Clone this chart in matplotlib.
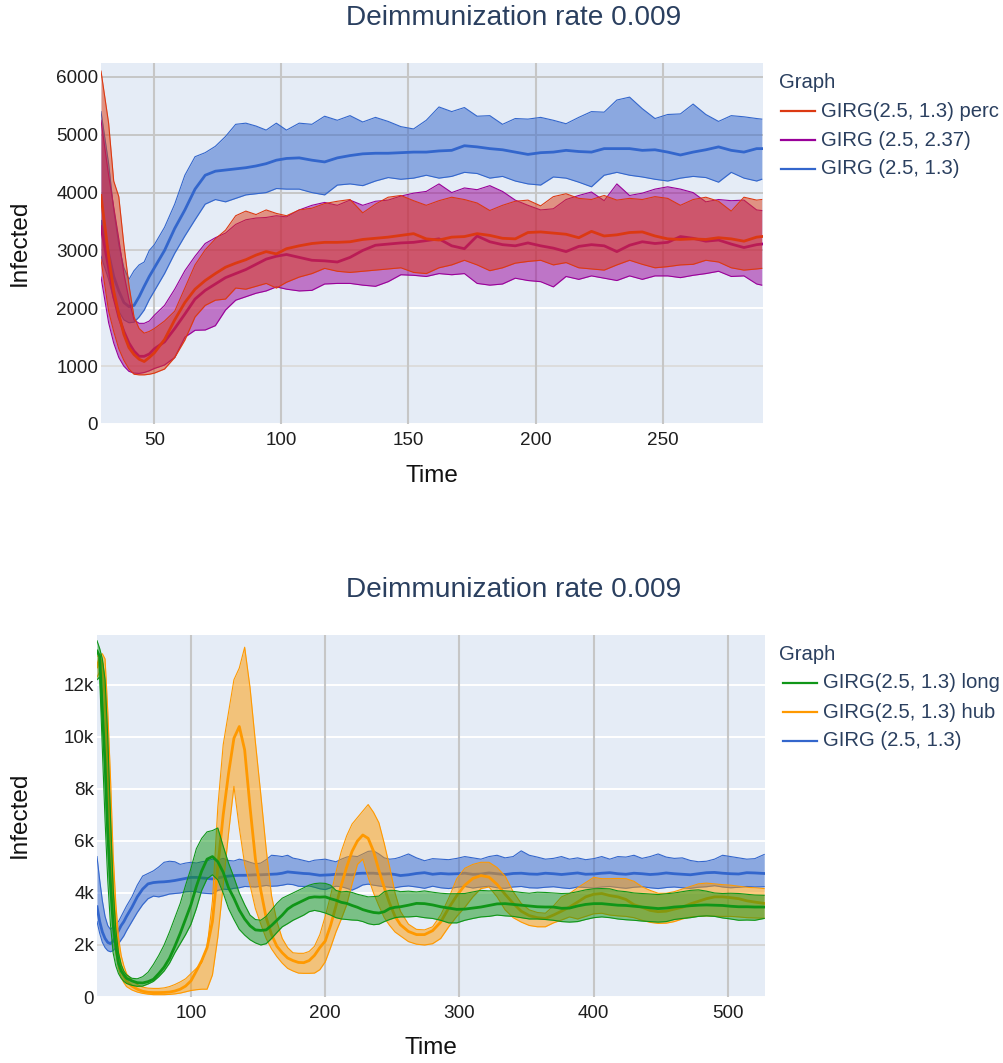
import matplotlib.pyplot as plt
from matplotlib.lines import Line2D

plt.rcParams['font.family'] = ['Liberation Sans', 'DejaVu Sans']

# ---------------- top panel data ----------------
t_top = [29, 32, 34, 36, 38, 40, 42, 44, 46, 48, 50,
         54, 58, 62, 66, 70, 74, 78, 82, 86, 90, 94, 98,
         102, 107, 112, 117, 122, 127, 132, 137, 142, 147, 152, 157, 162, 167, 172, 177, 182, 187, 192,
         197, 202, 207, 212, 217, 222, 227, 232, 237, 242, 247, 252, 257, 262, 267, 272, 277, 282, 287,
         289]

blue_mean = [3500, 2950, 2550, 2300, 2100, 2030, 2050, 2200, 2380, 2550, 2700,
             3000, 3380, 3700, 4060, 4300, 4370, 4390, 4410, 4430, 4460, 4500, 4560,
             4590, 4600, 4560, 4530, 4600, 4640, 4670, 4680, 4680, 4690, 4700, 4700, 4720, 4730, 4810, 4790,
             4760, 4740, 4700, 4660, 4690, 4700, 4730, 4710, 4700, 4760, 4760, 4760, 4730, 4740, 4700, 4650,
             4700, 4740, 4790, 4730, 4700, 4760,
             4760]
blue_hi = [5400, 4500, 3700, 3100, 2700, 2500, 2650, 2750, 2800, 3000, 3100,
           3400, 3800, 4300, 4620, 4690, 4800, 4970, 5180, 5200, 5150, 5080, 5200,
           5080, 5200, 5180, 5320, 5250, 5330, 5220, 5300, 5230, 5140, 5100, 5250, 5480, 5400, 5470, 5320,
           5330, 5180, 5280, 5270, 5300, 5250, 5190, 5300, 5400, 5390, 5600, 5650, 5450, 5280, 5350, 5360,
           5530, 5350, 5230, 5330, 5310, 5280,
           5270]
blue_lo = [2900, 2500, 2150, 1950, 1800, 1750, 1760, 1850, 1970, 2150, 2300,
           2600, 2950, 3250, 3530, 3800, 3880, 3840, 3900, 3960, 3980, 4000, 4070,
           4060, 4060, 4000, 3960, 4130, 4150, 4120, 4200, 4260, 4230, 4250, 4300, 4250, 4280, 4350, 4330,
           4250, 4280, 4200, 4150, 4130, 4270, 4250, 4180, 4100, 4300, 4350, 4300, 4270, 4230, 4200, 4250,
           4280, 4260, 4180, 4350, 4250, 4200,
           4230]

perc_mean = [3950, 2900, 2300, 1900, 1550, 1320, 1200, 1120, 1080, 1150, 1230,
             1460, 1800, 2100, 2330, 2480, 2600, 2710, 2780, 2840, 2920, 2980, 2940,
             3030, 3080, 3120, 3140, 3140, 3150, 3190, 3210, 3230, 3260, 3290, 3200, 3180, 3230, 3240, 3290,
             3260, 3210, 3200, 3310, 3320, 3300, 3280, 3220, 3330, 3250, 3270, 3310, 3320, 3250, 3200, 3190,
             3200, 3190, 3220, 3200, 3160, 3230,
             3240]
perc_hi = [6100, 5200, 4200, 3930, 3100, 2400, 1850, 1650, 1570, 1600, 1650,
           1780, 1950, 2350, 2750, 3010, 3200, 3350, 3600, 3680, 3620, 3700, 3640,
           3600, 3700, 3730, 3810, 3850, 3880, 3650, 3800, 3920, 3950, 3860, 3780, 3860, 3920, 3880, 3820,
           3690, 3780, 3850, 3870, 3770, 3930, 3980, 3900, 3880, 3950, 3870, 3900, 3880, 3930, 3900, 3780,
           3880, 3920, 3850, 3680, 3920, 3870,
           3880]
perc_lo = [2840, 1950, 1600, 1300, 1100, 950, 860, 850, 850, 860, 880,
           950, 1150, 1450, 1850, 2050, 2140, 2160, 2350, 2330, 2380, 2430, 2350,
           2450, 2540, 2600, 2690, 2640, 2620, 2640, 2660, 2680, 2700, 2620, 2600, 2700, 2750, 2830, 2750,
           2650, 2700, 2780, 2810, 2830, 2750, 2790, 2700, 2680, 2660, 2750, 2830, 2760, 2700, 2720, 2750,
           2760, 2830, 2800, 2700, 2660, 2680,
           2690]

g237_mean = [3410, 2700, 2200, 1850, 1600, 1400, 1260, 1170, 1170, 1210, 1300,
             1420, 1650, 1900, 2160, 2310, 2420, 2530, 2600, 2670, 2760, 2850, 2900,
             2930, 2880, 2830, 2820, 2800, 2880, 3000, 3090, 3110, 3130, 3140, 3170, 3200, 3080, 3030, 3250,
             3150, 3100, 3080, 3130, 3080, 3040, 2980, 3070, 3100, 3080, 2980, 3090, 3150, 3120, 3140, 3240,
             3210, 3160, 3180, 3110, 3050, 3100,
             3110]
g237_hi = [5250, 4300, 3750, 3200, 2600, 2150, 1800, 1740, 1740, 1780, 1880,
           2050, 2330, 2650, 2900, 3120, 3220, 3300, 3450, 3530, 3560, 3570, 3600,
           3580, 3700, 3780, 3830, 3780, 3870, 3780, 3850, 3870, 3940, 3990, 4020, 4150, 4000, 4080, 4050,
           4120, 4020, 3870, 3780, 3700, 3720, 3880, 3950, 4010, 3860, 4150, 3950, 3990, 4060, 4100, 4060,
           4000, 3840, 3880, 3860, 3870, 3700,
           3690]
g237_lo = [2540, 1750, 1400, 1150, 1000, 910, 880, 875, 890, 920, 960,
           1020, 1150, 1500, 1620, 1625, 1700, 1970, 2140, 2200, 2260, 2300, 2370,
           2330, 2300, 2310, 2420, 2430, 2430, 2400, 2380, 2460, 2580, 2570, 2550, 2600, 2580, 2600, 2430,
           2400, 2420, 2520, 2480, 2460, 2370, 2550, 2500, 2560, 2520, 2480, 2560, 2500, 2560, 2560, 2530,
           2570, 2600, 2640, 2550, 2560, 2420,
           2400]

# ---------------- bottom panel data ----------------
t_bot = [30, 32, 34, 36, 38, 40, 42, 44, 46, 48, 50,
         52, 56, 60, 64, 68, 72, 76, 80, 84, 88, 92, 96, 100, 104, 108, 112, 116, 120, 124, 128,
         132, 136, 140, 144, 148, 152, 156, 160, 164, 168, 172, 176, 180, 184, 188, 192, 196, 200, 204, 208,
         212, 216, 220, 224, 228, 232, 236, 240, 244, 248, 252, 256,
         262, 268, 274, 280, 286, 292, 298, 304, 310, 316, 322, 328, 334, 340, 346, 352, 358, 364, 370, 376,
         382, 388, 394, 400, 406, 412, 418, 424, 430, 436, 442, 448, 454, 460, 466, 472, 478, 484, 490, 496,
         502, 508, 514, 520, 527]

long_mean = [13300, 13100, 11000, 9000, 6300, 4400, 2800, 1950, 1300, 1000, 850,
             720, 620, 550, 540, 590, 680, 900, 1150, 1490, 1950, 2450, 3000, 3550, 4250, 4850, 5300, 5400, 5200, 4800, 4200,
             3800, 3340, 3000, 2740, 2580, 2560, 2580, 2750, 2950, 3150, 3380, 3520, 3620, 3720, 3820, 3850, 3840, 3850, 3780, 3720,
             3640, 3600, 3520, 3450, 3360, 3300, 3250, 3230, 3280, 3400, 3450, 3470,
             3530, 3600, 3590, 3540, 3470, 3420, 3370, 3380, 3420, 3460, 3520, 3580, 3590, 3560, 3530, 3500, 3470, 3460, 3460, 3410,
             3420, 3500, 3560, 3590, 3590, 3560, 3530, 3520, 3490, 3460, 3430, 3400, 3420, 3460, 3480, 3510, 3530, 3540, 3530, 3520,
             3490, 3470, 3470, 3460, 3460]
long_hi = [13700, 13400, 13000, 12200, 10000, 7000, 4200, 2600, 1700, 1250, 1000,
           850, 720, 700, 780, 950, 1250, 1600, 2000, 2500, 3050, 3600, 4300, 4950, 5700, 6100, 6350, 6400, 6500, 5800, 5150,
           4600, 4000, 3550, 3150, 2980, 2950, 3100, 3350, 3600, 3800, 3900, 4000, 4100, 4200, 4300, 4360, 4380, 4370, 4300, 4100,
           4040, 4060, 4020, 3950, 3900, 3850, 3860, 3880, 4050, 4100, 4100, 4050,
           4070, 4040, 4080, 4030, 3990, 3970, 3970, 3980, 4040, 4100, 4080, 4100, 4080, 4060, 4020, 3990, 4030, 4020, 4000, 3980,
           3990, 4050, 4120, 4160, 4170, 4160, 4080, 4050, 4000, 3980, 3960, 3940, 3970, 4000, 4050, 4100, 4120, 4070, 4000, 3980,
           3990, 3980, 3950, 3920, 3910]
long_lo = [12200, 12300, 9500, 6800, 4500, 2800, 1700, 1200, 900, 720, 600,
           520, 450, 410, 420, 500, 600, 780, 1000, 1300, 1700, 2050, 2400, 2800, 3400, 4100, 4550, 4700, 4500, 4000, 3400,
           2980, 2600, 2380, 2200, 2080, 2000, 2050, 2250, 2480, 2700, 2820, 2950, 3050, 3150, 3280, 3330, 3290, 3230, 3150, 3050,
           3000, 2980, 2960, 2950, 2900, 2820, 2780, 2800, 2900, 2980, 3050, 3080,
           3080, 3100, 3050, 3020, 2950, 2850, 2850, 2950, 3020, 3080, 3100, 3150, 3120, 3100, 3050, 3000, 3000, 2980, 2950, 2900,
           2880, 2900, 2980, 3050, 3080, 3050, 3000, 2970, 2950, 2920, 2900, 2880, 2900, 2980, 3020, 3050, 3100, 3120, 3100, 3040,
           3000, 2950, 2960, 2950, 3020]

hub_mean = [12700, 13000, 12800, 11500, 8800, 6200, 4000, 2600, 1600, 1100, 800,
            600, 420, 300, 220, 180, 170, 170, 175, 190, 230, 300, 420, 620, 1000, 1400, 1900, 2900, 5000, 7000, 8600,
            9950, 10400, 9500, 7300, 5300, 4100, 3050, 2400, 1950, 1700, 1500, 1400, 1330, 1320, 1400, 1600, 1900, 2150, 2750, 3500,
            4300, 5000, 5600, 6000, 6230, 6100, 5600, 4870, 4200, 3600, 3100, 2780,
            2520, 2400, 2400, 2550, 2880, 3420, 3900, 4300, 4560, 4670, 4610, 4330, 3950, 3600, 3300, 3130, 3050, 3020, 3150, 3300,
            3460, 3650, 3850, 3950, 3980, 3900, 3850, 3750, 3550, 3450, 3330, 3280, 3300, 3380, 3450, 3580, 3680, 3780, 3850, 3850,
            3820, 3780, 3700, 3650, 3600]
hub_hi = [13100, 13150, 13200, 13000, 11000, 8500, 5500, 3600, 2300, 1600, 1200,
          900, 650, 480, 380, 340, 330, 330, 350, 400, 480, 580, 700, 900, 1100, 1300, 1900, 3700, 7300, 9700, 10950,
          12200, 12650, 13450, 11900, 9800, 7800, 5700, 3900, 2900, 2250, 1900, 1700, 1680, 1680, 1750, 1950, 2400, 3100, 3900, 4800,
          5600, 6200, 6650, 6900, 7150, 7400, 7100, 6700, 5900, 5000, 4000, 3300,
          2800, 2600, 2580, 2700, 3150, 3800, 4550, 4950, 5100, 5180, 5180, 4980, 4650, 4050, 3600, 3350, 3250, 3220, 3500, 3850,
          3980, 4200, 4400, 4600, 4550, 4550, 4560, 4550, 4450, 4240, 4100, 3990, 3990, 4050, 4150, 4250, 4350, 4380, 4350, 4320,
          4300, 4260, 4220, 4200, 4170]
hub_lo = [12300, 12500, 11800, 9500, 6500, 4200, 2700, 1700, 1100, 750, 550,
          400, 270, 190, 140, 110, 90, 90, 90, 100, 120, 150, 200, 250, 280, 300, 300, 850, 2300, 4300, 6300,
          8100, 6500, 5100, 4300, 3400, 2800, 2250, 1850, 1550, 1300, 1100, 1000, 920, 910, 910, 920, 1050, 1350, 1900, 2500,
          3000, 3550, 4350, 5100, 5300, 4600, 4000, 3500, 3050, 2750, 2500, 2350,
          2130, 2030, 2000, 2050, 2250, 2700, 3100, 3450, 3850, 4170, 4230, 3850, 3350, 3050, 2880, 2750, 2700, 2700, 2850, 2960,
          3080, 3000, 3100, 3200, 3220, 3150, 3120, 3100, 3050, 2950, 2870, 2830, 2840, 2900, 3000, 3080, 3100, 3120, 3110, 3100,
          3100, 3080, 3050, 3040, 3030]

base_mean = [3470, 2900, 2500, 2250, 2100, 2050, 2150, 2350, 2550, 2750, 2900,
             3100, 3450, 3850, 4150, 4350, 4400, 4420, 4430, 4450, 4480, 4520, 4560, 4600, 4600, 4580, 4560, 4540, 4580, 4620, 4650,
             4670, 4680, 4680, 4690, 4700, 4700, 4710, 4720, 4730, 4760, 4810, 4790, 4770, 4750, 4740, 4710, 4680, 4690, 4700, 4720,
             4720, 4710, 4700, 4750, 4760, 4760, 4760, 4740, 4730, 4740, 4710, 4670,
             4700, 4750, 4780, 4720, 4750, 4730, 4740, 4760, 4720, 4730, 4770, 4740, 4710, 4750, 4760, 4730, 4720, 4760, 4740, 4710,
             4740, 4770, 4720, 4730, 4760, 4780, 4740, 4720, 4760, 4740, 4710, 4730, 4770, 4740, 4720, 4700, 4740, 4780, 4790, 4760,
             4740, 4730, 4780, 4770, 4750]
base_hi = [5400, 4500, 3700, 3100, 2750, 2600, 2700, 2800, 2900, 3100, 3300,
           3500, 3850, 4300, 4650, 4750, 4850, 5000, 5180, 5220, 5200, 5100, 5150, 5180, 5150, 5200, 5230, 5300, 5270, 5330, 5250,
           5230, 5300, 5250, 5180, 5120, 5150, 5280, 5450, 5430, 5400, 5450, 5340, 5300, 5250, 5200, 5260, 5280, 5300, 5250, 5200,
           5300, 5380, 5420, 5400, 5500, 5600, 5620, 5500, 5350, 5300, 5320, 5380,
           5500, 5350, 5240, 5320, 5300, 5280, 5330, 5400, 5350, 5300, 5400, 5450, 5350, 5400, 5620, 5450, 5380, 5300, 5330, 5400,
           5300, 5350, 5280, 5320, 5400, 5300, 5400, 5380, 5450, 5330, 5400, 5500, 5380, 5330, 5350, 5250, 5200, 5220, 5300, 5450,
           5400, 5350, 5300, 5320, 5480]
base_lo = [2900, 2450, 2100, 1900, 1780, 1740, 1780, 1900, 2050, 2200, 2350,
           2550, 2900, 3250, 3550, 3780, 3880, 3850, 3900, 3960, 3980, 4000, 4050, 4060, 4050, 4000, 3980, 3970, 4100, 4150, 4130,
           4180, 4200, 4250, 4240, 4230, 4260, 4290, 4260, 4270, 4300, 4340, 4320, 4260, 4250, 4270, 4220, 4160, 4130, 4200, 4260,
           4240, 4180, 4110, 4200, 4310, 4340, 4300, 4270, 4240, 4220, 4200, 4240,
           4270, 4230, 4180, 4260, 4200, 4170, 4220, 4250, 4190, 4230, 4260, 4200, 4180, 4230, 4250, 4200, 4190, 4220, 4240, 4200,
           4170, 4230, 4210, 4190, 4230, 4250, 4210, 4180, 4220, 4240, 4200, 4170, 4210, 4230, 4200, 4180, 4220, 4240, 4280, 4230,
           4200, 4220, 4250, 4230, 4240]

BLUE, RED, PURPLE, ORANGE, GREEN = '#3366CC', '#DC3912', '#990099', '#FF9900', '#109618'
TXT = '#2a3f5f'
W, H = 1004, 1063


def band(ax, t, lo, hi, mean, color):
    ax.fill_between(t, lo, hi, color=color, alpha=0.5, lw=0, zorder=2)
    ax.plot(t, hi, color=color, lw=0.8, zorder=2)
    ax.plot(t, lo, color=color, lw=0.8, zorder=2)
    ax.plot(t, mean, color=color, lw=2.0, zorder=2)


def style(ax, xticks, yticks, ylabels, hgrid_colors):
    ax.set_facecolor('#E5ECF6')
    for s in ax.spines.values():
        s.set_visible(False)
    ax.set_xticks(xticks)
    ax.set_yticks(yticks)
    ax.set_yticklabels(ylabels)
    ax.tick_params(length=0, labelsize=13.6, labelcolor='#1e1e1e')
    ax.tick_params(axis='y', pad=2)
    ax.tick_params(axis='x', pad=6)
    for yv, c in zip(yticks, hgrid_colors):
        ax.axhline(yv, color=c, lw=1.4, zorder=1)
    for xv in xticks:
        ax.axvline(xv, color='#c6c6c6', lw=1.5, zorder=1)


def legend(y_title, x_line, labels, colors):
    fig.text(779 / W, 1 - y_title / H, 'Graph', fontsize=14.6, color=TXT, va='center', ha='left')
    for i, (lab, col) in enumerate(zip(labels, colors)):
        yy = 1 - (y_title + 28 + 29 * i) / H
        fig.add_artist(Line2D([x_line / W, (x_line + 34) / W], [yy, yy], color=col, lw=1.6,
                              transform=fig.transFigure))
        fig.text((x_line + 40) / W, yy, lab, fontsize=14.6, color=TXT, va='center', ha='left')


fig = plt.figure(figsize=(W / 100, H / 100), dpi=100)

# top panel
ax1 = fig.add_axes([101 / W, 1 - 424 / H, 662 / W, 361 / H])
band(ax1, t_top, blue_lo, blue_hi, blue_mean, BLUE)
band(ax1, t_top, g237_lo, g237_hi, g237_mean, PURPLE)
band(ax1, t_top, perc_lo, perc_hi, perc_mean, RED)
ax1.set_xlim(29, 289.5)
ax1.set_ylim(0, 6240)
style(ax1, [50, 100, 150, 200, 250], [0, 1000, 2000, 3000, 4000, 5000, 6000],
      ['0', '1000', '2000', '3000', '4000', '5000', '6000'],
      ['white', '#dcdcdc', 'white', '#cfcfcf', '#c6c6c6', '#c6c6c6', '#c6c6c6'])

# bottom panel
ax2 = fig.add_axes([97 / W, 1 - 997 / H, 668 / W, 362 / H])
band(ax2, t_bot, base_lo, base_hi, base_mean, BLUE)
band(ax2, t_bot, hub_lo, hub_hi, hub_mean, ORANGE)
band(ax2, t_bot, long_lo, long_hi, long_mean, GREEN)
ax2.set_xlim(30, 527.6)
ax2.set_ylim(0, 13920)
style(ax2, [100, 200, 300, 400, 500], [0, 2000, 4000, 6000, 8000, 10000, 12000],
      ['0', '2k', '4k', '6k', '8k', '10k', '12k'],
      ['white', '#d6d6d6', 'white', 'white', 'white', 'white', 'white'])

for yc in (18, 590):
    fig.text(514 / W, 1 - yc / H, 'Deimmunization rate 0.009', fontsize=20.2, color=TXT,
             ha='center', va='center')
fig.text(432 / W, 1 - 476 / H, 'Time', fontsize=17.5, color='#111111', ha='center', va='center')
fig.text(431 / W, 1 - 1048 / H, 'Time', fontsize=17.5, color='#111111', ha='center', va='center')
fig.text(20 / W, 1 - 243 / H, 'Infected', fontsize=17.5, color='#111111', ha='center', va='center', rotation=90)
fig.text(20 / W, 1 - 815 / H, 'Infected', fontsize=17.5, color='#111111', ha='center', va='center', rotation=90)

legend(83, 781, ['GIRG(2.5, 1.3) perc', 'GIRG (2.5, 2.37)', 'GIRG (2.5, 1.3)'], [RED, PURPLE, BLUE])
legend(655, 783, ['GIRG(2.5, 1.3) long', 'GIRG(2.5, 1.3) hub', 'GIRG (2.5, 1.3)'], [GREEN, ORANGE, BLUE])

fig.savefig('out.png', dpi=100, facecolor='white')
